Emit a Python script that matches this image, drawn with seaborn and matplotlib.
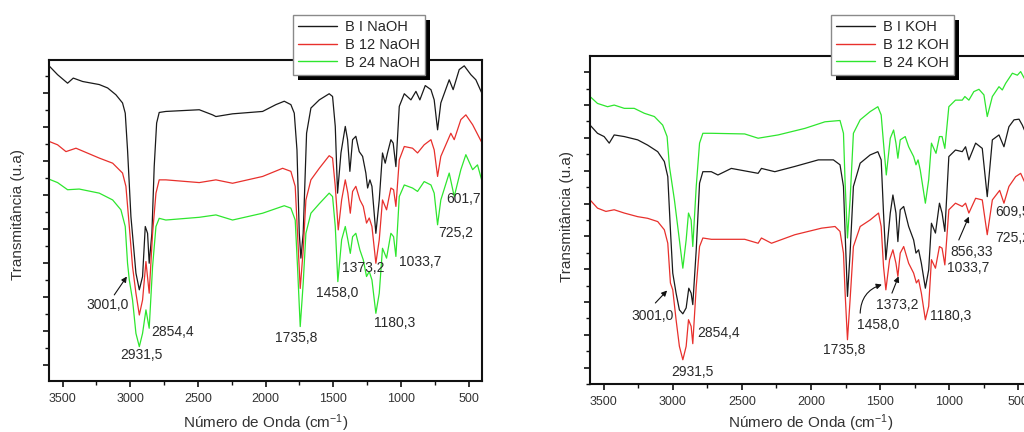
import matplotlib
matplotlib.use("Agg")
import matplotlib.pyplot as plt
from matplotlib.ticker import MultipleLocator, NullFormatter
from matplotlib.patches import Rectangle
import seaborn as sns
import pandas as pd

# ---------------- data (wavenumber cm-1, transmittance a.u.) ----------------
naoh_labels = ["B I NaOH", "B 12 NaOH", "B 24 NaOH"]
koh_labels = ["B I KOH", "B 12 KOH", "B 24 KOH"]

bi_naoh_wn = [3600,3537,3463,3421,3352,3229,3167,3106,3057,3037,3020,2995,2958,2933,2909,2889,2872,2860,2840,2823,
              2805,2786,2737,2490,2392,2367,2244,2022,1924,1862,1813,1788,1768,1751,1739,1722,1697,1665,1603,1530,
              1505,1485,1468,1443,1411,1394,1377,1357,1333,1308,1283,1259,1246,1229,1214,1185,1160,1136,1116,1099,
              1074,1057,1037,1012,975,926,889,860,820,778,754,729,705,643,614,569,532,483,446,400]
bi_naoh_t = [9.79,9.53,9.28,9.43,9.33,9.24,9.14,8.94,8.70,8.40,7.32,5.36,3.70,3.21,3.60,5.07,4.87,3.99,4.87,6.83,
             8.11,8.42,8.45,8.50,8.35,8.30,8.38,8.45,8.65,8.75,8.65,8.40,7.32,4.87,4.14,4.87,7.81,8.55,8.79,8.97,
             8.89,8.01,6.05,7.23,8.01,7.62,6.69,7.62,7.72,7.27,7.13,6.64,6.20,6.44,6.25,4.87,5.85,7.23,6.93,7.23,
             7.62,7.52,6.83,8.60,8.97,8.79,9.04,8.79,9.21,9.09,8.79,7.91,8.70,9.38,9.09,9.68,9.79,9.53,9.38,8.97]

b12_naoh_wn = [3600,3537,3475,3401,3229,3130,3057,3032,3007,2983,2958,2933,2909,2884,2860,2835,2810,2786,2737,2490,
               2367,2244,2022,1874,1813,1781,1764,1744,1722,1702,1665,1603,1530,1505,1485,1463,1438,1411,1392,1374,
               1357,1333,1303,1278,1254,1234,1214,1185,1160,1136,1106,1074,1054,1037,1012,975,914,877,828,778,
               754,729,705,631,606,557,520,470,400]
b12_naoh_t = [7.57,7.47,7.27,7.37,7.08,6.93,6.64,6.25,5.07,3.89,3.11,2.47,2.91,4.04,3.11,4.87,6.05,6.44,6.44,6.36,
              6.44,6.34,6.54,6.78,6.69,6.25,4.87,3.25,4.38,5.85,6.44,6.78,7.15,7.08,6.25,4.97,5.85,6.44,6.05,5.46,
              6.10,6.25,5.85,5.66,5.17,5.32,5.07,3.99,4.68,5.85,5.56,6.20,6.15,5.66,7.03,7.42,7.37,7.23,7.47,7.62,
              7.32,6.54,7.13,7.81,7.62,8.21,8.35,8.06,7.52]

b24_naoh_wn = [3600,3537,3463,3377,3229,3130,3069,3037,3020,3007,2983,2958,2933,2909,2884,2860,2835,2810,2786,2737,
               2490,2367,2244,2022,1862,1813,1781,1764,1744,1722,1702,1665,1603,1530,1505,1485,1466,1438,1411,1392,
               1374,1357,1333,1303,1278,1254,1234,1214,1185,1160,1136,1106,1074,1054,1037,1012,975,914,877,828,
               778,754,729,705,643,606,557,520,470,434,400]
b24_naoh_t = [6.46,6.36,6.15,6.17,6.05,5.85,5.56,5.07,3.99,3.50,2.91,1.93,1.54,1.93,2.62,2.08,3.89,5.07,5.31,5.26,
              5.34,5.41,5.26,5.46,5.68,5.61,5.26,3.89,2.13,3.40,4.87,5.46,5.74,6.05,5.95,5.07,3.45,4.68,5.07,4.68,
              4.28,4.77,4.87,4.38,4.09,3.60,3.75,3.50,2.52,3.11,4.43,4.14,4.87,4.77,4.19,5.95,6.29,6.20,6.10,6.39,
              6.29,6.05,5.12,5.85,6.64,5.95,6.74,7.18,6.74,6.88,6.39]

bi_koh_wn = [3600,3546,3498,3461,3425,3352,3255,3183,3110,3062,3037,3018,3001,2977,2953,2928,2904,2885,2868,2856,
             2831,2807,2783,2722,2674,2577,2383,2359,2262,2117,1947,1838,1790,1765,1753,1736,1717,1693,1644,1572,
             1516,1492,1475,1458,1426,1407,1385,1371,1354,1329,1293,1257,1240,1221,1201,1172,1148,1128,1099,1070,
             1051,1031,1002,954,905,881,857,808,760,724,687,639,603,567,530,494,470,455,430,400]
bi_koh_t = [8.39,8.14,8.04,7.84,8.09,8.04,7.94,7.78,7.58,7.28,6.82,5.20,3.88,3.27,2.76,2.64,2.82,3.42,3.27,2.92,
            4.59,6.62,6.97,6.97,6.87,7.07,6.92,7.07,6.97,7.13,7.33,7.33,7.18,6.52,5.10,3.17,4.49,6.52,7.23,7.48,
            7.58,7.33,5.71,4.29,5.71,6.26,5.71,4.84,5.81,5.91,5.30,4.89,4.49,4.59,4.18,3.42,3.98,5.40,5.10,6.01,
            5.71,5.15,7.43,7.63,7.58,7.73,7.33,7.84,7.68,6.21,7.94,8.09,7.73,8.34,8.55,8.57,8.39,8.24,8.30,8.20]

b12_koh_wn = [3600,3546,3485,3425,3352,3255,3183,3110,3062,3037,3018,3001,2977,2953,2928,2904,2887,2868,2856,2831,
              2807,2783,2722,2480,2383,2359,2286,2117,1923,1826,1790,1765,1753,1736,1717,1693,1644,1572,1511,1492,
              1475,1458,1431,1407,1385,1371,1354,1329,1293,1257,1237,1221,1201,1172,1148,1128,1099,1070,1051,1031,
              1002,954,905,881,857,808,760,724,687,634,603,567,518,482,455,430,400]
b12_koh_t = [6.11,5.86,5.76,5.81,5.71,5.60,5.55,5.45,5.20,4.79,3.58,3.37,2.46,1.65,1.24,1.65,2.46,2.26,1.73,3.47,
             4.69,4.95,4.91,4.91,4.79,4.95,4.79,5.05,5.25,5.30,5.15,4.49,3.27,1.85,3.07,4.69,5.30,5.50,5.71,5.30,
             4.08,3.37,4.29,4.59,4.18,3.78,4.49,4.69,4.18,3.88,3.58,3.68,3.27,2.46,2.87,4.29,4.03,4.69,4.64,4.13,
             5.81,6.01,5.91,6.01,5.71,6.16,6.11,5.05,6.11,6.40,6.01,6.52,6.82,6.92,6.67,6.60,6.50]

b24_koh_wn = [3600,3546,3473,3425,3352,3280,3207,3134,3074,3042,3025,2989,2953,2928,2904,2887,2868,2856,2831,2807,
              2783,2722,2480,2383,2238,2044,1899,1790,1765,1753,1736,1717,1693,1644,1572,1516,1492,1475,1455,1426,
              1402,1385,1371,1354,1318,1293,1257,1240,1225,1209,1172,1148,1128,1111,1095,1070,1051,1031,1002,954,
              905,886,857,821,784,748,724,687,639,615,591,542,506,482,455,430,400]
b24_koh_t = [9.26,9.05,8.95,9.00,8.90,8.90,8.75,8.65,8.39,8.04,7.13,6.11,4.89,4.03,4.89,5.71,5.50,4.69,6.52,7.84,
             8.14,8.14,8.12,7.99,8.09,8.29,8.49,8.53,8.14,6.62,4.95,6.11,8.14,8.55,8.80,8.95,8.70,7.84,6.87,7.99,
             8.24,7.84,7.38,7.94,8.04,7.73,7.43,7.18,7.33,7.02,6.01,6.72,7.84,7.68,7.53,8.04,8.04,7.68,8.95,9.15,
             9.15,9.26,9.15,9.41,9.48,9.31,8.65,9.26,9.56,9.46,9.66,9.97,9.91,10.02,9.81,9.75,9.55]

# peak labels: (text, x, y, ha)
naoh_peaks = [("3001,0", 3167, 2.76, "center"), ("2931,5", 2914, 1.29, "center"),
              ("2854,4", 2687, 1.96, "center"), ("1735,8", 1776, 1.78, "center"),
              ("1458,0", 1468, 3.13, "center"), ("1373,2", 1276, 3.86, "center"),
              ("1180,3", 1049, 2.23, "center"), ("1033,7", 1012, 4.04, "left"),
              ("725,2", 722, 4.87, "left"), ("601,7", 667, 5.87, "left")]
naoh_arrows = [((3118, 3.06), (3025, 3.60), 0.0)]

koh_peaks = [("3001,0", 3146, 2.56, "center"), ("2931,5", 2860, 0.86, "center"),
             ("2854,4", 2667, 2.05, "center"), ("1735,8", 1758, 1.53, "center"),
             ("1458,0", 1511, 2.31, "center"), ("1373,2", 1378, 2.92, "center"),
             ("1180,3", 1140, 2.56, "left"), ("1033,7", 1014, 4.05, "left"),
             ("856,33", 990, 4.52, "left"), ("725,2", 668, 4.95, "left"),
             ("609,5", 668, 5.74, "left")]
koh_arrows = [((3127, 2.97), (3042, 3.35), 0.0), ((1644, 2.66), (1487, 3.53), -0.35),
              ((1414, 3.27), (1366, 3.78), 0.0), ((930, 4.89), (857, 5.60), 0.0)]

colors = ["#1a1a1a", "#e8302c", "#2ee62e"]

# ---------------- style ----------------
sns.set_style("ticks")
plt.rcParams["font.family"] = ["Liberation Sans", "DejaVu Sans"]
plt.rcParams["axes.edgecolor"] = "#111111"
plt.rcParams["mathtext.fontset"] = "custom"
plt.rcParams["mathtext.rm"] = "Liberation Sans"
plt.rcParams["mathtext.it"] = "Liberation Sans:italic"

fig = plt.figure(figsize=(10.24, 4.32), dpi=100)
ax1 = fig.add_axes([0.0479, 0.118, 0.4229, 0.743])
ax2 = fig.add_axes([0.5762, 0.111, 0.4316, 0.759])


def make_df(labels, wns, ts):
    frames = []
    for lab, w, t in zip(labels, wns, ts):
        frames.append(pd.DataFrame({"wn": w, "T": t, "series": lab}))
    return pd.concat(frames, ignore_index=True)


def panel(ax, labels, wns, ts, ylim, peaks, arrows, legend_anchor):
    df = make_df(labels, wns, ts)
    sns.lineplot(data=df, x="wn", y="T", hue="series", hue_order=labels,
                 palette=dict(zip(labels, colors)), sort=False, estimator=None,
                 lw=0.9, ax=ax, legend=True)
    handles, labs = ax.get_legend_handles_labels()
    ax.get_legend().remove()
    ax.set_xlim(3600, 400)
    ax.set_ylim(*ylim)
    ax.xaxis.set_major_locator(MultipleLocator(500))
    ax.xaxis.set_minor_locator(MultipleLocator(250))
    ax.yaxis.set_major_locator(MultipleLocator(1))
    ax.yaxis.set_minor_locator(MultipleLocator(0.5))
    ax.yaxis.set_major_formatter(NullFormatter())
    ax.tick_params(axis="both", which="major", direction="out", length=4.5, width=1.2,
                   labelsize=9, colors="#111111", labelcolor="#333333", pad=4)
    ax.tick_params(axis="both", which="minor", direction="out", length=2.6, width=1.0,
                   colors="#111111")
    for s in ax.spines.values():
        s.set_linewidth(1.5)
        s.set_visible(True)
    ax.set_xlabel("Número de Onda (cm$^{-1}$)", fontsize=11, color="#333333")
    ax.set_ylabel("Transmitância (u.a)", fontsize=11, color="#333333")
    for txt, x, y, ha in peaks:
        ax.text(x, y, txt, ha=ha, va="center", fontsize=10, color="#2a2a2a")
    for tail, head, rad in arrows:
        ax.annotate("", xy=head, xytext=tail,
                    arrowprops=dict(arrowstyle="-|>", color="#111111", lw=0.8,
                                    mutation_scale=8, shrinkA=0, shrinkB=0,
                                    connectionstyle=f"arc3,rad={rad}"))
    leg = fig.legend(handles, labs, loc="upper left", bbox_to_anchor=legend_anchor,
                     bbox_transform=fig.transFigure, fontsize=10.5, frameon=True,
                     fancybox=False, framealpha=1, edgecolor="#8a8a8a",
                     handlelength=2.7, handletextpad=0.5, labelspacing=0.25,
                     borderpad=0.35, borderaxespad=0)
    leg.get_frame().set_linewidth(1.0)
    leg.set_zorder(6)
    for ln in leg.get_lines():
        ln.set_linewidth(1.0)
    return leg


leg1 = panel(ax1, naoh_labels, [bi_naoh_wn, b12_naoh_wn, b24_naoh_wn],
             [bi_naoh_t, b12_naoh_t, b24_naoh_t], (0.53, 9.96), naoh_peaks, naoh_arrows,
             (0.286, 0.965))
leg2 = panel(ax2, koh_labels, [bi_koh_wn, b12_koh_wn, b24_koh_wn],
             [bi_koh_t, b12_koh_t, b24_koh_t], (0.50, 10.49), koh_peaks, koh_arrows,
             (0.8115, 0.965))

ax1.xaxis.set_label_coords(0.5, -0.0985)
ax2.xaxis.set_label_coords(0.5, -0.0875)
ax1.yaxis.set_label_coords(-0.055, 0.52)
ax2.yaxis.set_label_coords(-0.036, 0.51)

# legend drop shadows
fig.canvas.draw()
for leg in (leg1, leg2):
    bb = leg.get_frame().get_window_extent()
    sh = Rectangle((bb.x0 + 5, bb.y0 - 5), bb.width, bb.height,
                   transform=None, facecolor="black", edgecolor="none", zorder=5)
    fig.patches.append(sh)
    sh.set_figure(fig)

fig.savefig("out.png", dpi=100)
